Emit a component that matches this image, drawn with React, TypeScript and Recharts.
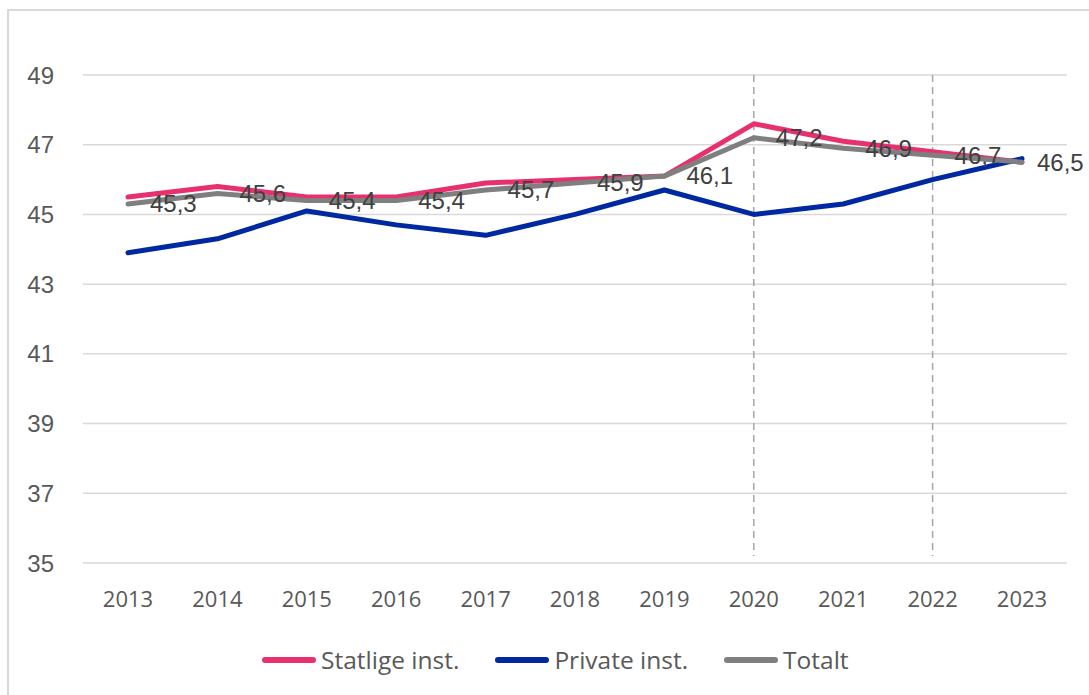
import {
  LineChart, Line, XAxis, YAxis, CartesianGrid, Legend, LabelList, ReferenceLine,
} from "recharts";

const years = ["2013", "2014", "2015", "2016", "2017", "2018", "2019", "2020", "2021", "2022", "2023"];
const statlige = [45.5, 45.8, 45.5, 45.5, 45.9, 46.0, 46.1, 47.6, 47.1, 46.8, 46.5];
const private_ = [43.9, 44.3, 45.1, 44.7, 44.4, 45.0, 45.7, 45.0, 45.3, 46.0, 46.6];
const totalt = [45.3, 45.6, 45.4, 45.4, 45.7, 45.9, 46.1, 47.2, 46.9, 46.7, 46.5];
const yTicks = [35, 37, 39, 41, 43, 45, 47, 49];
const markedYears = ["2020", "2022"];

const series = [
  { key: "statlige", name: "Statlige inst.", color: "#E8306F" },
  { key: "private", name: "Private inst.", color: "#0028A0" },
  { key: "totalt", name: "Totalt", color: "#7F7F7F" },
];

const data = years.map((year, i) => ({
  year,
  statlige: statlige[i],
  private: private_[i],
  totalt: totalt[i],
}));

const axisFont = "'Open Sans', sans-serif";
const numFont = "'Liberation Sans', Arial, sans-serif";

// labels sit right of the point; the last one is pulled in a bit so it stays inside
function ValueLabel(props: any) {
  const { x, y, value, index } = props;
  const dx = index === years.length - 1 ? 15 : 22;
  return (
    <text x={x + dx} y={y} dy="0.35em" fill="#404040" fontSize={24} fontFamily={numFont}>
      {Number(value).toFixed(1).replace(".", ",")}
    </text>
  );
}

function LegendBox() {
  return (
    <div style={{ display: "flex", alignItems: "center", fontFamily: axisFont, fontSize: 24.5, color: "#595959" }}>
      {series.map((s) => (
        <div key={s.key} style={{ display: "flex", alignItems: "center", marginRight: 36 }}>
          <span style={{ display: "inline-block", width: 54, height: 6, borderRadius: 3, background: s.color }} />
          <span style={{ marginLeft: 5 }}>{s.name}</span>
        </div>
      ))}
    </div>
  );
}

export default function App() {
  return (
    <div style={{ position: "absolute", left: 0, top: 0, width: 1089, height: 695, background: "#fff", overflow: "hidden" }}>
      <div style={{ position: "absolute", left: 7, top: 9, width: 1200, height: 800, borderTop: "2px solid #d9d9d9", borderLeft: "2px solid #d9d9d9" }} />
      <LineChart width={1089} height={695} data={data} margin={{ top: 75, right: 22, left: 0, bottom: 92 }}>
        <CartesianGrid vertical={false} stroke="#d9d9d9" strokeWidth={1.5} />
        <XAxis
          dataKey="year"
          axisLine={false}
          tickLine={false}
          tickSize={0}
          tickMargin={28}
          height={40}
          interval={0}
          padding={{ left: 45, right: 45 }}
          tick={{ fill: "#595959", fontSize: 22, fontFamily: axisFont }}
        />
        <YAxis
          domain={[35, 49]}
          ticks={yTicks}
          width={83}
          axisLine={false}
          tickLine={false}
          tickSize={0}
          tickMargin={29}
          tick={{ fill: "#595959", fontSize: 24, fontFamily: numFont }}
        />
        {markedYears.map((y) => (
          <ReferenceLine
            key={y}
            segment={[{ x: y, y: 49 }, { x: y, y: 35.2 }]}
            stroke="#a6a6a6"
            strokeWidth={1.5}
            strokeDasharray="7 5"
          />
        ))}
        {series.map((s) => (
          <Line
            key={s.key}
            dataKey={s.key}
            name={s.name}
            stroke={s.color}
            strokeWidth={5}
            strokeLinecap="round"
            strokeLinejoin="round"
            dot={false}
            activeDot={false}
            isAnimationActive={false}
          >
            {s.key === "totalt" && <LabelList dataKey="totalt" content={ValueLabel} />}
          </Line>
        ))}
        <Legend
          layout="horizontal"
          verticalAlign="middle"
          align="center"
          content={() => <LegendBox />}
          wrapperStyle={{ top: 643, left: 262, width: 780 }}
        />
      </LineChart>
    </div>
  );
}
